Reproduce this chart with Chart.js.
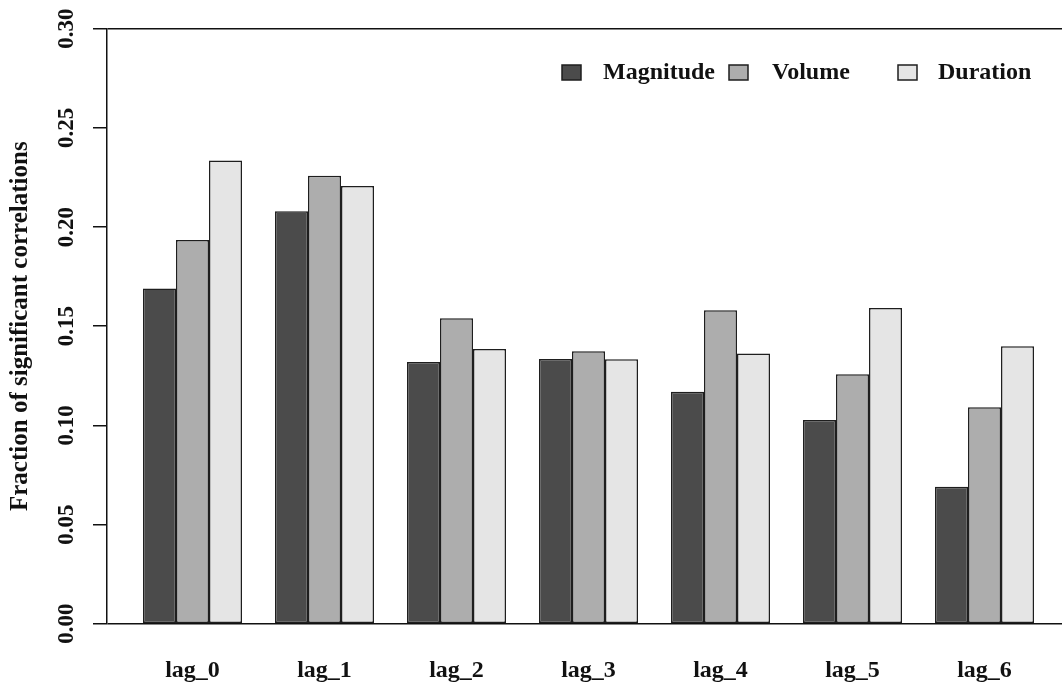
<!DOCTYPE html>
<html><head><meta charset="utf-8">
<script src="https://cdn.jsdelivr.net/npm/chart.js@4"></script>
<style>html,body{margin:0;padding:0;background:#fff;overflow:hidden;} canvas{display:block;}</style>
</head><body>
<canvas id="c" width="1062" height="687"></canvas>
<script>
const categories = ['lag_0', 'lag_1', 'lag_2', 'lag_3', 'lag_4', 'lag_5', 'lag_6'];
const seriesNames = ['Magnitude', 'Volume', 'Duration'];
const magnitude = [0.169, 0.208, 0.132, 0.1335, 0.117, 0.1027, 0.069];
const volume = [0.1935, 0.2259, 0.154, 0.1374, 0.158, 0.1258, 0.1091];
const duration = [0.2335, 0.2207, 0.1385, 0.1333, 0.1362, 0.1592, 0.1399];
const yTickValues = [0, 0.05, 0.10, 0.15, 0.20, 0.25, 0.30];
const yTitle = 'Fraction of significant correlations';

const FONT = "'Liberation Serif', 'Times New Roman', serif";
const colors = ['#4b4b4b', '#adadad', '#e5e5e5'];
const edge = '#1e1e1e';

function toPoints(arr) { return arr.map((v, i) => ({ x: i, y: v })); }

const legendPlugin = {
  id: 'rLegend',
  afterDraw(chart) {
    const ctx = chart.ctx;
    const items = [
      { box: 562, text: 603 },
      { box: 729, text: 772 },
      { box: 898, text: 938 }
    ];
    ctx.save();
    ctx.font = 'bold 24px ' + FONT;
    ctx.textBaseline = 'middle';
    ctx.textAlign = 'left';
    chart.data.datasets.forEach((ds, i) => {
      const it = items[i];
      ctx.fillStyle = ds.backgroundColor;
      ctx.fillRect(it.box, 65, 19, 15);
      ctx.lineWidth = 1.5;
      ctx.strokeStyle = edge;
      ctx.strokeRect(it.box, 65, 19, 15);
      ctx.fillStyle = '#111';
      ctx.fillText(ds.label, it.text, 73);
    });
    ctx.restore();
  }
};

new Chart(document.getElementById('c'), {
  type: 'bar',
  data: {
    datasets: [
      { label: seriesNames[0], data: toPoints(magnitude), backgroundColor: colors[0] },
      { label: seriesNames[1], data: toPoints(volume), backgroundColor: colors[1] },
      { label: seriesNames[2], data: toPoints(duration), backgroundColor: colors[2] }
    ]
  },
  options: {
    responsive: false,
    animation: false,
    layout: { padding: { top: 28.7, right: 0, left: 0, bottom: 0 } },
    datasets: {
      bar: {
        borderColor: edge,
        borderWidth: 1.5,
        barPercentage: 1.0,
        categoryPercentage: 0.75,
        borderSkipped: false
      }
    },
    plugins: { legend: { display: false }, tooltip: { enabled: false } },
    scales: {
      x: {
        type: 'linear',
        offset: false,
        min: -0.6477,
        max: 6.587,
        afterBuildTicks(scale) { scale.ticks = categories.map((_, i) => ({ value: i })); },
        afterFit(scale) { scale.height = 63.3; },
        grid: { display: false, drawTicks: false, offset: false },
        border: { display: false },
        ticks: {
          autoSkip: false,
          padding: 33,
          color: '#111',
          font: { family: FONT, size: 24, weight: 'bold' },
          callback: (v) => categories[v] !== undefined ? categories[v] : ''
        }
      },
      y: {
        type: 'linear',
        min: 0,
        max: 0.3,
        afterBuildTicks(scale) { scale.ticks = yTickValues.map(v => ({ value: v })); },
        afterFit(scale) { scale.width = 107; },
        grid: {
          drawOnChartArea: true,
          drawTicks: true,
          tickLength: 14,
          lineWidth: 1.5,
          tickWidth: 1.5,
          tickColor: '#111',
          color: (ctx) => (ctx.tick && (ctx.tick.value === 0 || ctx.tick.value === 0.3)) ? '#111' : 'rgba(0,0,0,0)'
        },
        border: { display: true, color: '#111', width: 1.5 },
        ticks: {
          minRotation: 90,
          maxRotation: 90,
          crossAlign: 'center',
          padding: 6,
          color: '#111',
          font: { family: FONT, size: 23, weight: 'bold' },
          callback: (v) => Number(v).toFixed(2)
        },
        title: {
          display: true,
          text: yTitle,
          color: '#111',
          padding: { top: 6, bottom: 0 },
          font: { family: FONT, size: 25, weight: 'bold' }
        }
      }
    }
  },
  plugins: [legendPlugin]
});
</script>
</body></html>
